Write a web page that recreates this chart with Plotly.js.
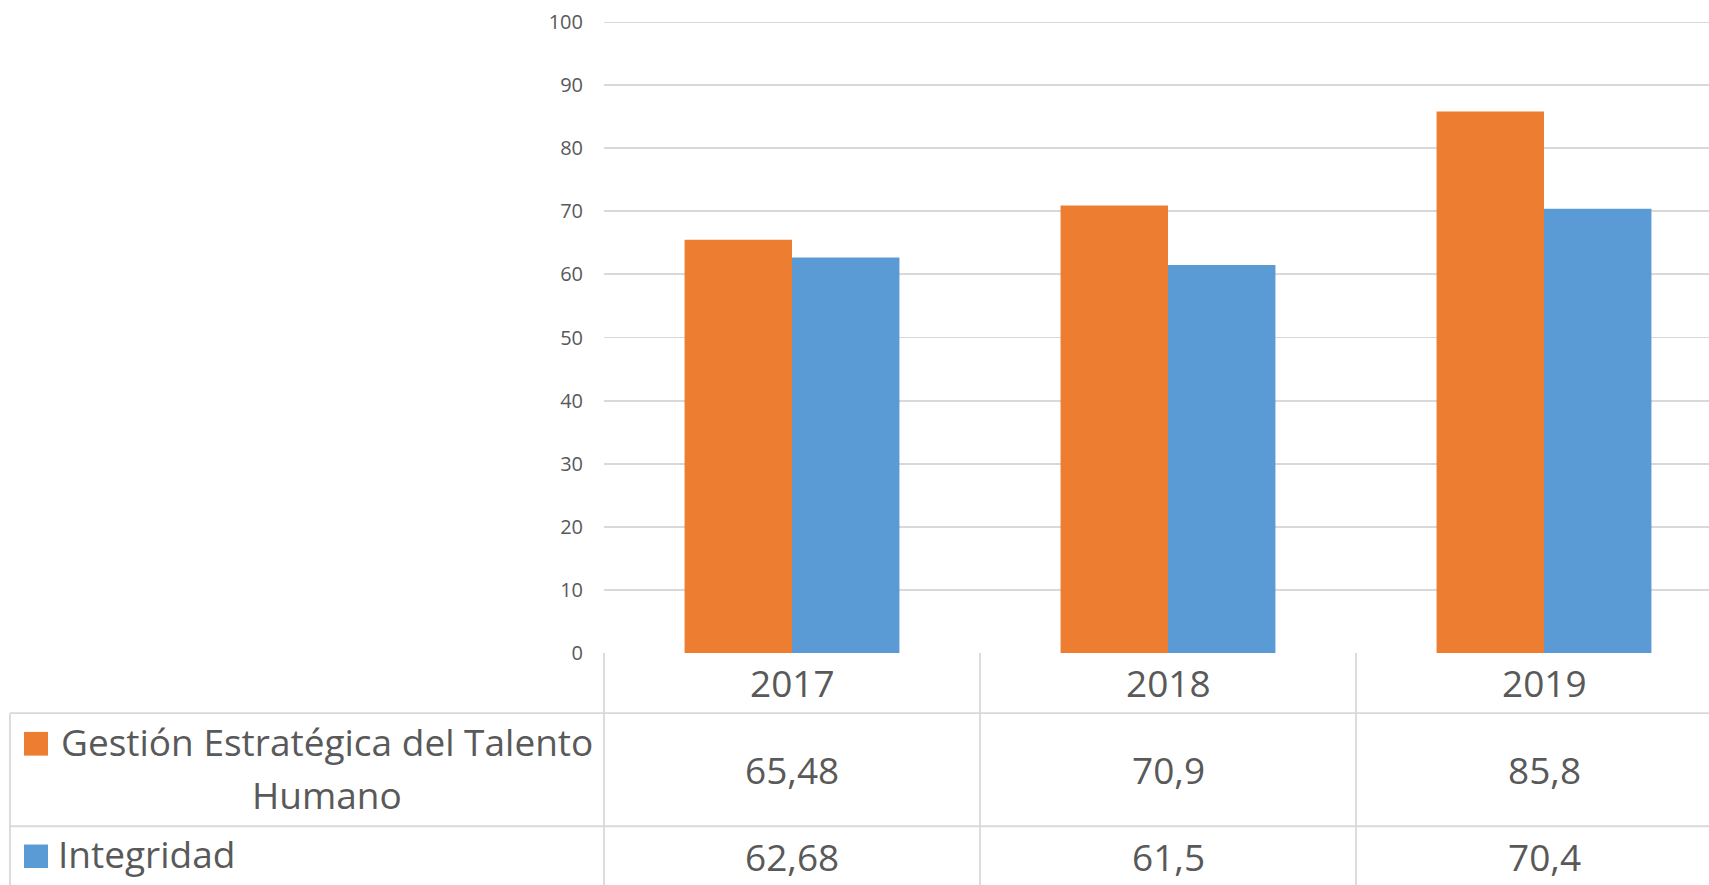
<!DOCTYPE html>
<html><head><meta charset="utf-8">
<script src="https://cdn.plot.ly/plotly-3.0.1.min.js"></script>
<style>html,body{margin:0;padding:0;background:#fff;overflow:hidden}#chart{width:1709px;height:885px}</style>
</head><body><div id="chart"></div>
<script>
// ---- data ----
const years = ['2017', '2018', '2019'];
const seriesNames = ['Gestión Estratégica del Talento<br>Humano', 'Integridad'];
const gestion = [65.48, 70.9, 85.8];
const integridad = [62.68, 61.5, 70.4];
const yTickVals = [0, 10, 20, 30, 40, 50, 60, 70, 80, 90, 100];
const colors = ['#ED7D31', '#5B9BD5'];

// ---- geometry helpers (pixel -> paper) ----
const W = 1709, H = 885, L = 604, T = 21.7, Y0 = 653.3;
const PW = W - L, PH = Y0 - T;
const fx = px => (px - L) / PW;
const fy = py => (Y0 - py) / PH;
const xMax = -0.5 + PW / 376;
const txt = '#595959', line = '#D9D9D9';
const fmt = v => String(v).replace('.', ',');

const traces = [
  {type: 'bar', x: years, y: gestion, name: seriesNames[0], marker: {color: colors[0]}},
  {type: 'bar', x: years, y: integridad, name: seriesNames[1], marker: {color: colors[1]}}
];

const shapes = [];
const lw = 1.8;
// top gridline (at range edge)
shapes.push({type: 'line', xref: 'paper', yref: 'y', x0: 0, x1: 1, y0: 100, y1: 100,
  line: {color: line, width: lw}});
// horizontal table lines
[713.5, 826.7].forEach(py => shapes.push({type: 'line', xref: 'paper', yref: 'paper',
  x0: fx(10), x1: 1.05, y0: fy(py), y1: fy(py), line: {color: line, width: lw}}));
// left border of legend column
shapes.push({type: 'line', xref: 'paper', yref: 'paper', x0: fx(10), x1: fx(10),
  y0: fy(713.5), y1: fy(890), line: {color: line, width: lw}});
// vertical column separators at category boundaries
[-0.5, 0.5, 1.5].forEach(b => shapes.push({type: 'line', xref: 'paper', yref: 'paper',
  x0: (b + 0.5) / (xMax + 0.5), x1: (b + 0.5) / (xMax + 0.5), y0: 0, y1: fy(890),
  line: {color: line, width: lw}}));
// legend keys
[[732.3, 756], [845, 868.5]].forEach((r, i) => shapes.push({type: 'rect', xref: 'paper', yref: 'paper',
  x0: fx(24), x1: fx(48), y0: fy(r[1]), y1: fy(r[0]), line: {width: 0}, fillcolor: colors[i]}));

const annotations = [];
const F = {family: 'Open Sans', size: 37, color: txt};
years.forEach((yr, i) => {
  annotations.push({xref: 'x', yref: 'paper', x: i, y: fy(682.5), text: yr, showarrow: false,
    xanchor: 'center', yanchor: 'middle', font: F});
  annotations.push({xref: 'x', yref: 'paper', x: i, y: fy(769.5), text: fmt(gestion[i]), showarrow: false,
    xanchor: 'center', yanchor: 'middle', font: F});
  annotations.push({xref: 'x', yref: 'paper', x: i, y: fy(856.5), text: fmt(integridad[i]), showarrow: false,
    xanchor: 'center', yanchor: 'middle', font: F});
});
// legend labels (first one wraps onto two lines, centred on the text block)
const nameLines = seriesNames[0].split('<br>');
const lineY = [742, 795];
nameLines.forEach((t, k) => annotations.push({xref: 'paper', yref: 'paper', x: fx(327), y: fy(lineY[k]),
  text: t, showarrow: false, xanchor: 'center', yanchor: 'middle', font: F}));
annotations.push({xref: 'paper', yref: 'paper', x: fx(56), y: fy(854), text: seriesNames[1], showarrow: false,
  xanchor: 'left', yanchor: 'middle', align: 'left', font: F});

const layout = {
  width: W, height: H,
  margin: {l: L, r: 0, t: T, b: H - Y0, pad: 0},
  paper_bgcolor: '#fff', plot_bgcolor: '#fff',
  font: {family: 'Open Sans', color: txt},
  showlegend: false,
  barmode: 'group', bargap: 1.5 / 3.5, bargroupgap: 0,
  xaxis: {type: 'category', range: [-0.5, xMax], showticklabels: false, showgrid: false,
    zeroline: false, showline: false, ticks: '', fixedrange: true},
  yaxis: {range: [0, 100], tickvals: yTickVals, showgrid: true, gridcolor: line, gridwidth: lw,
    zeroline: false, showline: false, ticks: '', ticklabelstandoff: 20,
    tickfont: {family: 'Open Sans', size: 20, color: txt}, fixedrange: true},
  shapes: shapes,
  annotations: annotations,
  hovermode: false
};
Plotly.newPlot('chart', traces, layout, {staticPlot: true, displayModeBar: false});
</script>
</body></html>
